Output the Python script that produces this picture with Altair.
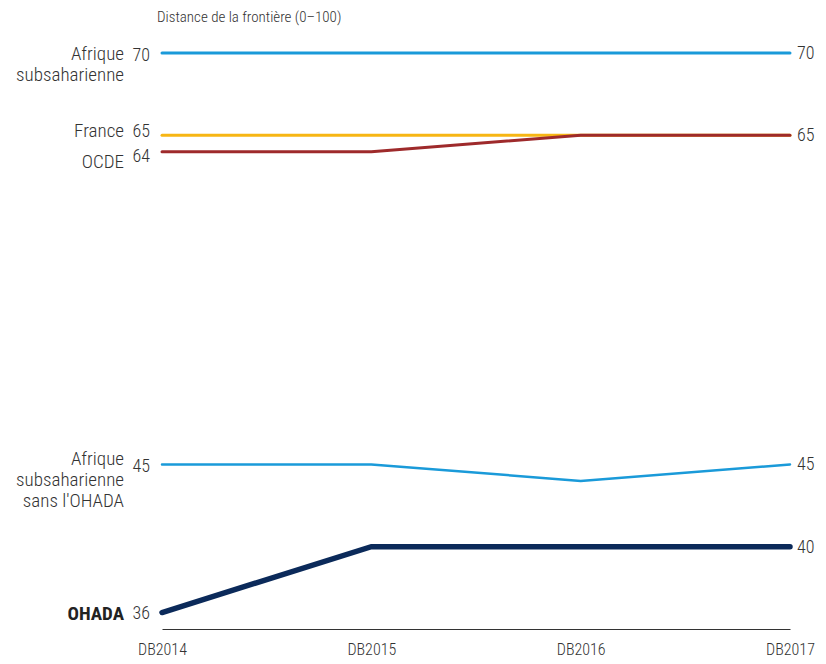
import altair as alt
import pandas as pd

years = [2014, 2015, 2016, 2017]
series = ["Afrique subsaharienne", "France", "OCDE", "Afrique subsaharienne sans l'OHADA", "OHADA"]
v_ssa = [70, 70, 70, 70]
v_france = [65, 65, 65, 65]
v_ocde = [64, 64, 65, 65]
v_ssa_x = [45, 45, 44, 45]
v_ohada = [36, 40, 40, 40]
values = [v_ssa, v_france, v_ocde, v_ssa_x, v_ohada]
left_names = ["Afrique\nsubsaharienne", "France", "OCDE", "Afrique\nsubsaharienne\nsans l'OHADA", "OHADA"]
show_right = [True, False, True, True, True]
colors = ["#1a9ad9", "#f7b614", "#9e2a2b", "#1a9ad9", "#0b2a5a"]
widths = [3, 3, 3, 2.5, 5.5]
name_dy = [1, -4, 10, -5, 1]
num_dy = [3, -3, 5, 3, 1]
bold = [False, False, False, False, True]

FONT = "Liberation Sans Narrow, Roboto Condensed, Roboto, sans-serif"
TXT = "#333333"

rows = []
for s, vals in zip(series, values):
    for y, v in zip(years, vals):
        rows.append({"series": s, "year": y, "value": v})
df = pd.DataFrame(rows)

xs = alt.Scale(domain=[2014, 2017])
ys = alt.Scale(domain=[35, 70], nice=False, zero=False)

X_AXIS = alt.Axis(values=years, labelExpr="'DB' + datum.value", title=None,
                  grid=False, ticks=False, domainColor="#333333", domainWidth=1.2,
                  labelFont=FONT, labelFontSize=16, labelFontWeight=300, labelColor=TXT,
                  labelPadding=12, labelFlush=False)


def X(first=False):
    if first:
        return alt.X("year:Q", scale=xs, axis=X_AXIS)
    return alt.X("year:Q", scale=xs)


def Y():
    return alt.Y("value:Q", scale=ys, axis=None)


layers = []
for i, s in enumerate(series):
    d = df[df.series == s]
    layers.append(alt.Chart(d).mark_line(color=colors[i], strokeWidth=widths[i], strokeCap="round").encode(
        x=X(i == 0), y=Y()))
for i, s in enumerate(series):
    d0 = df[(df.series == s) & (df.year == years[0])].copy()
    d0["name"] = left_names[i]
    layers.append(alt.Chart(d0).mark_text(align="right", baseline="middle", dx=-38, dy=name_dy[i],
                                           font=FONT, fontSize=19, color="#222222" if bold[i] else TXT,
                                           fontWeight="bold" if bold[i] else 300,
                                           lineBreak="\n", lineHeight=21).encode(
        x=X(), y=Y(), text="name:N"))
    layers.append(alt.Chart(d0).mark_text(align="right", baseline="middle", dx=-12, dy=num_dy[i],
                                           font=FONT, fontSize=18, fontWeight=300, color=TXT).encode(
        x=X(), y=Y(), text="value:Q"))
    if show_right[i]:
        d1 = df[(df.series == s) & (df.year == years[-1])]
        layers.append(alt.Chart(d1).mark_text(align="left", baseline="middle", dx=7, dy=1,
                                               font=FONT, fontSize=18, fontWeight=300, color=TXT).encode(
            x=X(), y=Y(), text="value:Q"))

title_df = pd.DataFrame({"t": ["Distance de la frontière (0–100)"]})
layers.append(alt.Chart(title_df).mark_text(align="left", baseline="middle", font=FONT, fontSize=15,
                                             fontWeight=300, color=TXT).encode(
    x=alt.value(-5), y=alt.value(-36), text="t:N"))

chart = alt.layer(*layers).properties(
    width=628, height=576,
    autosize=alt.AutoSizeParams(type="none"),
    padding={"left": 154, "top": 45, "right": 28, "bottom": 40},
    background="white",
).configure_view(stroke=None)

chart.save("out.html", embed_options={"renderer": "svg", "actions": False})
